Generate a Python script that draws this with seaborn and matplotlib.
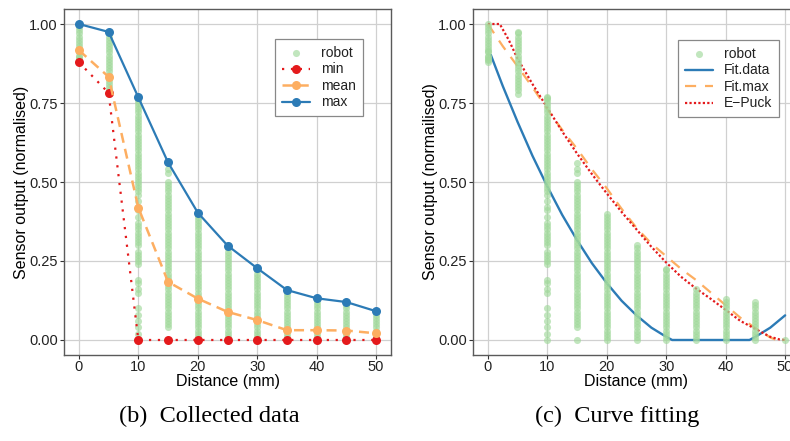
import numpy as np
import pandas as pd
import matplotlib
matplotlib.use("Agg")
import matplotlib.pyplot as plt
import seaborn as sns

# ---------------- data ----------------
distances = [0, 5, 10, 15, 20, 25, 30, 35, 40, 45, 50]
max_vals = [1.00, 0.975, 0.768, 0.562, 0.403, 0.299, 0.227, 0.158, 0.132, 0.120, 0.091]
mean_vals = [0.917, 0.833, 0.419, 0.184, 0.131, 0.089, 0.063, 0.031, 0.031, 0.030, 0.021]
min_vals = [0.879, 0.782, 0.0, 0.0, 0.0, 0.0, 0.0, 0.0, 0.0, 0.0, 0.0]

robot_0 = [0.88, 0.885, 0.89, 0.895, 0.90, 0.91, 0.915, 0.92, 0.93, 0.94, 0.95, 0.96, 0.97, 0.98, 0.99, 1.00]
robot_5 = [0.78, 0.79, 0.80, 0.81, 0.82, 0.83, 0.84, 0.85, 0.86, 0.87, 0.88, 0.89, 0.90, 0.91, 0.92,
           0.93, 0.94, 0.95, 0.96, 0.97, 0.975]
robot_10 = [0.77, 0.765, 0.76, 0.75, 0.74, 0.73, 0.72, 0.71, 0.70, 0.69, 0.68, 0.67, 0.66, 0.65, 0.64,
            0.63, 0.62, 0.61, 0.60, 0.59, 0.58, 0.57, 0.56, 0.55, 0.54, 0.53, 0.52, 0.51, 0.50, 0.49,
            0.48, 0.47, 0.46, 0.44, 0.42, 0.41, 0.39, 0.37, 0.36, 0.35, 0.34, 0.33, 0.32, 0.31, 0.30,
            0.28, 0.27, 0.26, 0.25, 0.24, 0.19, 0.18, 0.16, 0.15, 0.10, 0.08, 0.06, 0.04, 0.02, 0.0]
robot_15 = [0.56, 0.54, 0.53, 0.50, 0.49, 0.48, 0.47, 0.46, 0.45, 0.44, 0.43, 0.42, 0.41, 0.40, 0.39,
            0.38, 0.37, 0.36, 0.35, 0.34, 0.33, 0.32, 0.31, 0.30, 0.29, 0.28, 0.27, 0.26, 0.25, 0.24,
            0.23, 0.22, 0.21, 0.20, 0.19, 0.18, 0.17, 0.16, 0.15, 0.14, 0.13, 0.12, 0.11, 0.10, 0.09,
            0.08, 0.07, 0.06, 0.05, 0.04, 0.0]
robot_20 = [0.40, 0.39, 0.38, 0.37, 0.36, 0.35, 0.34, 0.33, 0.32, 0.31, 0.30, 0.29, 0.28, 0.27, 0.26,
            0.25, 0.24, 0.23, 0.22, 0.21, 0.20, 0.19, 0.18, 0.17, 0.16, 0.15, 0.14, 0.13, 0.12, 0.11,
            0.10, 0.09, 0.08, 0.07, 0.06, 0.05, 0.04, 0.03, 0.02, 0.01, 0.0]
robot_25 = [0.30, 0.29, 0.28, 0.27, 0.26, 0.25, 0.24, 0.23, 0.22, 0.21, 0.20, 0.19, 0.18, 0.17, 0.16,
            0.15, 0.14, 0.13, 0.12, 0.11, 0.10, 0.09, 0.08, 0.07, 0.06, 0.05, 0.04, 0.03, 0.02, 0.01, 0.0]
robot_30 = [0.225, 0.22, 0.21, 0.20, 0.19, 0.18, 0.17, 0.16, 0.15, 0.14, 0.13, 0.12, 0.11, 0.10, 0.09,
            0.08, 0.07, 0.06, 0.05, 0.04, 0.03, 0.02, 0.01, 0.0]
robot_35 = [0.16, 0.15, 0.14, 0.13, 0.12, 0.11, 0.10, 0.09, 0.08, 0.07, 0.06, 0.05, 0.04, 0.03, 0.02,
            0.01, 0.0]
robot_40 = [0.13, 0.12, 0.11, 0.10, 0.09, 0.08, 0.07, 0.06, 0.05, 0.04, 0.03, 0.02, 0.01, 0.0]
robot_45 = [0.12, 0.11, 0.10, 0.09, 0.08, 0.07, 0.06, 0.05, 0.04, 0.03, 0.02, 0.01, 0.0]
robot_50 = [0.09, 0.08, 0.07, 0.06, 0.05, 0.04, 0.03, 0.02, 0.01, 0.0]

fit_data_x = [0.5, 2.5, 5, 7.5, 10, 12.5, 15, 17.5, 20, 22.5, 25, 27.5, 30, 31, 44, 45, 47.5, 50]
fit_data_y = [0.902, 0.804, 0.690, 0.583, 0.486, 0.396, 0.316, 0.243, 0.180, 0.124, 0.078, 0.039,
              0.010, 0.0, 0.0, 0.010, 0.039, 0.078]
fit_max_x = [0, 2.5, 5, 7.5, 10, 12.5, 15, 17.5, 20, 22.5, 25, 27.5, 30, 32.5, 35, 37.5, 40, 42.5,
             45, 47.5, 48.5, 50]
fit_max_y = [1.0, 0.93, 0.866, 0.80, 0.73, 0.665, 0.605, 0.54, 0.48, 0.415, 0.355, 0.305, 0.265,
             0.225, 0.19, 0.15, 0.11, 0.07, 0.038, 0.008, 0.0, 0.0]
epuck_x = [0, 2, 3.5, 5, 7.5, 10, 12.5, 15, 17.5, 20, 22.5, 25, 27.5, 30, 32.5, 35, 37.5, 40, 42.5,
           45, 47.5, 49, 50]
epuck_y = [1.0, 1.0, 0.95, 0.89, 0.81, 0.735, 0.66, 0.59, 0.525, 0.464, 0.405, 0.35, 0.295, 0.245,
           0.20, 0.163, 0.13, 0.095, 0.06, 0.035, 0.01, 0.002, 0.0]

y_ticks = [0.0, 0.25, 0.5, 0.75, 1.0]
y_ticklabels = ["0.00", "0.25", "0.50", "0.75", "1.00"]
x_ticks = [0, 10, 20, 30, 40, 50]

# ---------------- build tables ----------------
robot_lists = [robot_0, robot_5, robot_10, robot_15, robot_20, robot_25, robot_30,
               robot_35, robot_40, robot_45, robot_50]
rows = []
for d, vals in zip(distances, robot_lists):
    for v in vals:
        rows.append((d, v))
robot = pd.DataFrame(rows, columns=["distance", "output"])
robot_right = robot[(robot["distance"] < 50) | (robot["output"] == 0)]
summary = pd.DataFrame({"distance": distances, "min": min_vals, "mean": mean_vals, "max": max_vals})

# ---------------- style ----------------
sns.set_theme(style="white")
plt.rcParams["font.family"] = ["Liberation Sans", "DejaVu Sans"]

GREEN = "#a1d99b"
RED = "#e41a1c"
ORANGE = "#fdae61"
BLUE = "#2c7bb6"
GRID = "#d0d0d0"
FRAME = "#5a5a5a"

W, H = 790, 441
fig = plt.figure(figsize=(W / 100, H / 100), dpi=100)


def px_axes(left, top, right, bottom):
    return fig.add_axes([left / W, 1 - bottom / H, (right - left) / W, (bottom - top) / H])


axL = px_axes(64, 9, 391, 355)
axR = px_axes(473, 9, 800, 355)


def style_axes(ax, ylabel):
    ax.set_xlim(-2.5, 52.5)
    ax.set_ylim(-0.0475, 1.0475)
    ax.set_xticks(x_ticks)
    ax.set_yticks(y_ticks)
    ax.set_yticklabels(y_ticklabels)
    ax.grid(True, color=GRID, linewidth=0.9)
    ax.set_axisbelow(True)
    for s in ax.spines.values():
        s.set_color(FRAME)
        s.set_linewidth(1.0)
        s.set_visible(True)
    ax.tick_params(axis="both", which="major", length=3, width=0.8, color="#333333",
                   labelsize=10.5, labelcolor="#222222", pad=1.5, direction="out",
                   bottom=True, left=True)
    ax.tick_params(axis="x", pad=0.5)
    ax.set_xlabel("Distance (mm)", fontsize=11.5, color="black")
    ax.set_ylabel(ylabel, fontsize=11.5, color="black")
    ax.xaxis.set_label_coords(0.5, -0.055)
    ax.yaxis.set_label_coords(-0.108, 0.5)


# ---------------- left panel ----------------
sns.scatterplot(data=robot, x="distance", y="output", ax=axL, color=GREEN, alpha=0.65,
                s=26, linewidth=0, label="robot", zorder=2)
sns.lineplot(data=summary, x="distance", y="min", ax=axL, color=RED, linewidth=1.6,
             linestyle=(0, (1, 3)), marker="o", markersize=6.5, markeredgewidth=0,
             label="min", zorder=3)
sns.lineplot(data=summary, x="distance", y="mean", ax=axL, color=ORANGE, linewidth=1.8,
             linestyle=(0, (4, 2.5)), marker="o", markersize=6.5, markeredgewidth=0,
             label="mean", zorder=4)
sns.lineplot(data=summary, x="distance", y="max", ax=axL, color=BLUE, linewidth=1.6,
             marker="o", markersize=6.5, markeredgewidth=0, label="max", zorder=5)
style_axes(axL, "Sensor output (normalised)")

# ---------------- right panel ----------------
fitd = pd.DataFrame({"x": fit_data_x, "y": fit_data_y})
fitm = pd.DataFrame({"x": fit_max_x, "y": fit_max_y})
epk = pd.DataFrame({"x": epuck_x, "y": epuck_y})
sns.lineplot(data=fitd, x="x", y="y", ax=axR, color=BLUE, linewidth=1.7, label="Fit.data",
             zorder=2, sort=False)
sns.lineplot(data=fitm, x="x", y="y", ax=axR, color=ORANGE, linewidth=1.6,
             linestyle=(0, (5, 4)), label="Fit.max", zorder=3, sort=False)
sns.lineplot(data=epk, x="x", y="y", ax=axR, color=RED, linewidth=1.6,
             linestyle=(0, (1, 1)), label="E\u2212Puck", zorder=4, sort=False)
sns.scatterplot(data=robot_right, x="distance", y="output", ax=axR, color=GREEN, alpha=0.65,
                s=26, linewidth=0, label="robot", zorder=5)
style_axes(axR, "Sensor output (normailised)")


def make_legend(ax, order, anchor):
    h, l = ax.get_legend_handles_labels()
    d = dict(zip(l, h))
    leg = ax.legend([d[k] for k in order], order, loc="upper left", bbox_to_anchor=anchor,
                    bbox_transform=fig.transFigure, frameon=True, fancybox=False,
                    fontsize=10, handlelength=2.0, handletextpad=0.8, labelspacing=0.18,
                    borderpad=0.5, borderaxespad=0, framealpha=1)
    leg.get_frame().set_edgecolor("#888888")
    leg.get_frame().set_linewidth(0.9)
    for t in leg.get_texts():
        t.set_color("#222222")
    return leg


make_legend(axL, ["robot", "min", "mean", "max"], (275 / W, 1 - 39 / H))
make_legend(axR, ["robot", "Fit.data", "Fit.max", "E\u2212Puck"], (678 / W, 1 - 40 / H))

# ---------------- captions ----------------
fig.text(209 / W, 1 - 416 / H, "(b)  Collected data", ha="center", va="center",
         fontsize=17.5, family=["Liberation Serif", "DejaVu Serif"], color="black")
fig.text(617 / W, 1 - 416 / H, "(c)  Curve fitting", ha="center", va="center",
         fontsize=17.5, family=["Liberation Serif", "DejaVu Serif"], color="black")

fig.savefig("out.png", dpi=100)
